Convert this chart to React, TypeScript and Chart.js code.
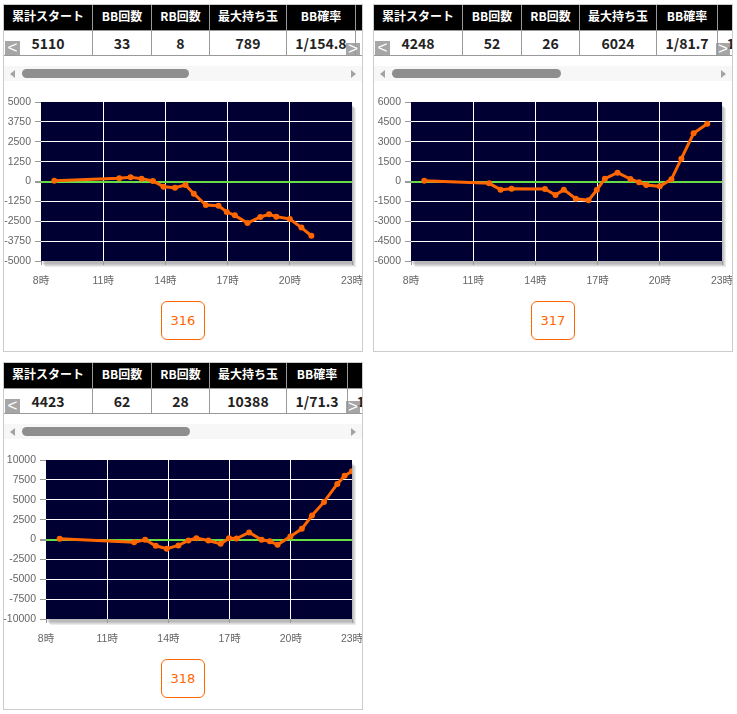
import React, { useEffect, useRef } from "react";
import { Chart, registerables } from "chart.js";

Chart.register(...registerables);

// ---------- data ----------
const tableHeaders = ["累計スタート", "BB回数", "RB回数", "最大持ち玉", "BB確率", "RB確率"];
const stats316 = ["5110", "33", "8", "789", "1/154.8", "1/638.8"];
const stats317 = ["4248", "52", "26", "6024", "1/81.7", "1/163.4"];
const stats318 = ["4423", "62", "28", "10388", "1/71.3", "1/158.0"];

const xHourTicks = [8, 11, 14, 17, 20, 23];

const yTicks316 = [-5000, -3750, -2500, -1250, 0, 1250, 2500, 3750, 5000];
const yTicks317 = [-6000, -4500, -3000, -1500, 0, 1500, 3000, 4500, 6000];
const yTicks318 = [-10000, -7500, -5000, -2500, 0, 2500, 5000, 7500, 10000];

const times316 = [8.64, 11.77, 12.32, 12.85, 13.4, 13.91, 14.46, 14.97, 15.37, 15.95, 16.56, 16.96, 17.35, 17.96, 18.58, 19.0, 19.35, 20.0, 20.56, 21.04];
const values316 = [50, 200, 260, 180, 30, -325, -390, -220, -765, -1480, -1520, -1920, -2130, -2610, -2230, -2065, -2210, -2360, -2900, -3410];

const times317 = [8.64, 11.77, 12.32, 12.85, 14.46, 14.97, 15.37, 15.95, 16.56, 16.96, 17.35, 17.96, 18.58, 19.0, 19.35, 20.0, 20.56, 21.04, 21.63, 22.29];
const values317 = [60, -140, -615, -540, -565, -1020, -615, -1300, -1420, -640, 215, 665, 190, -60, -265, -365, 165, 1720, 3635, 4365];

const times318 = [8.67, 12.32, 12.86, 13.38, 13.92, 14.49, 14.98, 15.37, 15.96, 16.56, 16.97, 17.34, 17.96, 18.57, 18.97, 19.35, 19.98, 20.54, 21.04, 21.63, 22.28, 22.64, 23.0];
const values318 = [85, -335, -40, -795, -1170, -750, -125, 170, -125, -545, 170, 125, 880, -40, -210, -670, 375, 1340, 3010, 4730, 6990, 8030, 8580];

// ---------- styles ----------
const NAVY = "#000033";
const ORANGE = "#ff6600";
const ZERO_GREEN = "#66dd44";
const AXIS_FONT = "'Liberation Sans', 'Noto Sans CJK JP', sans-serif";
const CJK_FONT = "'Noto Sans CJK JP', 'Liberation Sans', sans-serif";

const plotBackground = {
  id: "plotBackground",
  beforeDraw(chart: any) {
    const { ctx, chartArea } = chart;
    const { left, top, width, height } = chartArea;
    ctx.save();
    for (let i = 1; i <= 4; i++) {
      ctx.fillStyle = "rgba(0,0,0,0.08)";
      ctx.fillRect(left + i, top + i + 2, width, height);
    }
    ctx.fillStyle = NAVY;
    ctx.fillRect(left, top, width, height);
    ctx.restore();
  },
};

type PanelProps = {
  left: number;
  top: number;
  stats: string[];
  colWidths: number[];
  times: number[];
  values: number[];
  yTicks: number[];
  yAxisWidth: number;
  label: string;
  thumbWidth: number;
};

function LineChart({ times, values, yTicks, yAxisWidth }: { times: number[]; values: number[]; yTicks: number[]; yAxisWidth: number }) {
  const ref = useRef<HTMLCanvasElement | null>(null);
  useEffect(() => {
    if (!ref.current) return;
    const yMin = yTicks[0];
    const yMax = yTicks[yTicks.length - 1];
    const xMin = xHourTicks[0];
    const xMax = xHourTicks[xHourTicks.length - 1];
    const chart = new Chart(ref.current, {
      type: "line",
      data: {
        datasets: [
          {
            data: times.map((t, i) => ({ x: t, y: values[i] })),
            borderColor: ORANGE,
            backgroundColor: ORANGE,
            borderWidth: 3,
            pointRadius: 3,
            pointBorderWidth: 0,
            pointHoverRadius: 3,
            tension: 0,
          },
        ],
      },
      options: {
        animation: false,
        responsive: false,
        events: [],
        layout: { padding: { top: 14, right: 10, left: 0, bottom: 0 } },
        plugins: { legend: { display: false }, tooltip: { enabled: false } },
        scales: {
          x: {
            type: "linear",
            min: xMin,
            max: xMax,
            afterBuildTicks: (s: any) => {
              s.ticks = xHourTicks.map((v) => ({ value: v }));
            },
            afterFit: (s: any) => {
              s.height = 27;
              s.paddingLeft = 0;
              s.paddingRight = 0;
            },
            border: { display: false },
            grid: {
              color: (c: any) => {
                const v = c.tick ? c.tick.value : null;
                return v === xMin || v === xMax ? "rgba(0,0,0,0)" : "#ffffff";
              },
              lineWidth: 1,
              tickLength: 4,
              tickColor: "#999999",
            },
            ticks: {
              autoSkip: false,
              maxRotation: 0,
              padding: 10,
              color: "#666666",
              font: { family: AXIS_FONT, size: 10.5 },
              callback: (v: any) => `${v}時`,
            },
          },
          y: {
            type: "linear",
            min: yMin,
            max: yMax,
            afterBuildTicks: (s: any) => {
              s.ticks = yTicks.map((v) => ({ value: v }));
            },
            afterFit: (s: any) => {
              s.width = yAxisWidth;
              s.paddingTop = 0;
              s.paddingBottom = 0;
            },
            border: { display: false },
            grid: {
              color: (c: any) => {
                const v = c.tick ? c.tick.value : null;
                if (v === yMin || v === yMax) return "rgba(0,0,0,0)";
                if (v === 0) return ZERO_GREEN;
                return "#ffffff";
              },
              lineWidth: (c: any) => (c.tick && c.tick.value === 0 ? 2 : 1),
              tickLength: 6,
              tickColor: "#999999",
            },
            ticks: {
              padding: 4,
              color: "#666666",
              font: { family: AXIS_FONT, size: 10.5 },
              callback: (v: any) => String(v),
            },
          },
        },
      },
      plugins: [plotBackground],
    } as any);
    return () => chart.destroy();
  }, [times, values, yTicks, yAxisWidth]);
  return <canvas ref={ref} width={358} height={200} style={{ display: "block", width: 358, height: 200 }} />;
}

function Panel(p: PanelProps) {
  const cellBase: React.CSSProperties = {
    border: "1px solid #999",
    padding: 0,
    textAlign: "center",
    whiteSpace: "nowrap",
    overflow: "hidden",
  };
  return (
    <div
      style={{
        position: "absolute",
        left: p.left,
        top: p.top,
        width: 360,
        height: 348,
        boxSizing: "border-box",
        border: "1px solid #cccccc",
        background: "#fff",
      }}
    >
      <div style={{ position: "absolute", left: 0, top: 0, width: 358, height: 51, overflow: "hidden" }}>
        <table
          style={{
            borderCollapse: "collapse",
            tableLayout: "fixed",
            width: p.colWidths.reduce((a, b) => a + b, 0),
            position: "absolute",
            left: -1,
            top: -1,
          }}
        >
          <colgroup>
            {p.colWidths.map((w, i) => (
              <col key={i} style={{ width: w }} />
            ))}
          </colgroup>
          <tbody>
            <tr style={{ height: 26 }}>
              {tableHeaders.map((h, i) => (
                <th
                  key={i}
                  style={{
                    ...cellBase,
                    background: "#000",
                    color: "#fff",
                    fontFamily: CJK_FONT,
                    fontWeight: "bold",
                    fontSize: 12,
                    lineHeight: "14px",
                    paddingBottom: 3,
                  }}
                >
                  {h}
                </th>
              ))}
            </tr>
            <tr style={{ height: 25 }}>
              {p.stats.map((s, i) => (
                <td
                  key={i}
                  style={{
                    ...cellBase,
                    background: "#fff",
                    color: "#222",
                    fontFamily: CJK_FONT,
                    fontWeight: "bold",
                    fontSize: 14,
                    lineHeight: "16px",
                  }}
                >
                  {s}
                </td>
              ))}
            </tr>
          </tbody>
        </table>
      </div>
      <div
        style={{
          position: "absolute",
          left: 1,
          top: 36,
          width: 15,
          height: 14,
          background: "rgba(150,150,150,0.85)",
          color: "#fff",
          fontFamily: AXIS_FONT,
          fontSize: 17,
          lineHeight: "14px",
          textAlign: "center",
        }}
      >
        &lt;
      </div>
      <div
        style={{
          position: "absolute",
          left: 342,
          top: 38,
          width: 14,
          height: 12,
          background: "rgba(150,150,150,0.85)",
          color: "#fff",
          fontFamily: AXIS_FONT,
          fontSize: 17,
          lineHeight: "12px",
          textAlign: "center",
        }}
      >
        &gt;
      </div>
      <div style={{ position: "absolute", left: 0, top: 61, width: 358, height: 15, background: "#f7f7f7" }}>
        <div
          style={{
            position: "absolute",
            left: 6,
            top: 3.5,
            width: 0,
            height: 0,
            borderTop: "4px solid transparent",
            borderBottom: "4px solid transparent",
            borderRight: "5px solid #a3a3a3",
          }}
        />
        <div
          style={{
            position: "absolute",
            left: 18,
            top: 3,
            width: p.thumbWidth,
            height: 9,
            borderRadius: 5,
            background: "#8e8e8e",
          }}
        />
        <div
          style={{
            position: "absolute",
            left: 347,
            top: 3.5,
            width: 0,
            height: 0,
            borderTop: "4px solid transparent",
            borderBottom: "4px solid transparent",
            borderLeft: "5px solid #a3a3a3",
          }}
        />
      </div>
      <div style={{ position: "absolute", left: 0, top: 83, width: 358, height: 200 }}>
        <LineChart times={p.times} values={p.values} yTicks={p.yTicks} yAxisWidth={p.yAxisWidth} />
      </div>
      <div
        style={{
          position: "absolute",
          left: 157,
          top: 296,
          width: 44,
          height: 39,
          boxSizing: "border-box",
          border: "1px solid " + ORANGE,
          borderRadius: 6,
          color: ORANGE,
          fontFamily: "'DejaVu Sans', sans-serif",
          fontSize: 13,
          lineHeight: "37px",
          textAlign: "center",
        }}
      >
        {p.label}
      </div>
    </div>
  );
}

export default function App() {
  return (
    <div
      style={{
        position: "absolute",
        left: 0,
        top: 0,
        width: 737,
        height: 714,
        background: "#fff",
        fontFamily: CJK_FONT,
      }}
    >
      <Panel
        left={3}
        top={4}
        stats={stats316}
        colWidths={[89, 59, 58, 77, 69, 70]}
        times={times316}
        values={values316}
        yTicks={yTicks316}
        yAxisWidth={37}
        label="316"
        thumbWidth={167}
      />
      <Panel
        left={373}
        top={4}
        stats={stats317}
        colWidths={[89, 59, 58, 77, 61, 70]}
        times={times317}
        values={values317}
        yTicks={yTicks317}
        yAxisWidth={37}
        label="317"
        thumbWidth={169}
      />
      <Panel
        left={3}
        top={362}
        stats={stats318}
        colWidths={[89, 59, 58, 77, 61, 70]}
        times={times318}
        values={values318}
        yTicks={yTicks318}
        yAxisWidth={42}
        label="318"
        thumbWidth={168}
      />
    </div>
  );
}
